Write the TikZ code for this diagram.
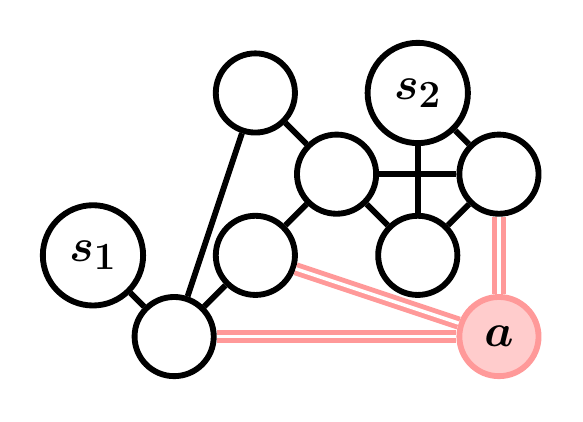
\documentclass[tikz,border=0pt]{standalone}
\usepackage{amsmath}
\definecolor{EdgePink}{RGB}{255,153,153}
\definecolor{SoftPink}{RGB}{255,204,204}
\newcommand{\vlabel}[1]{\scalebox{1.3}{$\boldsymbol{#1}$}}
\tikzset{
  vertex/.style={circle,draw=black,line width=4.1pt,fill=white,
    minimum size=1.95cm,inner sep=0pt,font=\Huge},
  source/.style={vertex,minimum size=2.47cm},
  target/.style={vertex,draw=EdgePink,fill=SoftPink},
  link/.style={line width=4.1pt,black},
  cut/.style={draw=EdgePink,double=white,line width=3.4pt,double distance=2.4pt}
}

\begin{document}
\begin{tikzpicture}
      \useasboundingbox (-2.29,-2.08) rectangle (12.07,8.29);
      \node[source] (s1) at (0,2) {\vlabel{s_1}};
      \node[vertex] (hub) at (2,0) {};
      \node[vertex] (top) at (4,6) {};
      \node[vertex] (mid) at (4,2) {};
      \node[vertex] (centre) at (6,4) {};
      \node[source] (s2) at (8,6) {\vlabel{s_2}};
      \node[vertex] (low) at (8,2) {};
      \node[vertex] (right) at (10,4) {};
      \node[target] (a) at (10,0) {\vlabel{a}};

      \draw[link] (s1) -- (hub);
      \draw[link] (hub) -- (top);
      \draw[link] (hub) -- (mid);
      \draw[link] (mid) -- (centre);
      \draw[link] (top) -- (centre);
      \draw[link] (centre) -- (right);
      \draw[link] (s2) -- (low);
      \draw[link] (centre) -- (low);
      \draw[link] (low) -- (right);
      \draw[link] (s2) -- (right);
      \draw[cut] (hub) -- (a);
      \draw[cut] (mid) -- (a);
      \draw[cut] (right) -- (a);
    \end{tikzpicture}
\end{document}
